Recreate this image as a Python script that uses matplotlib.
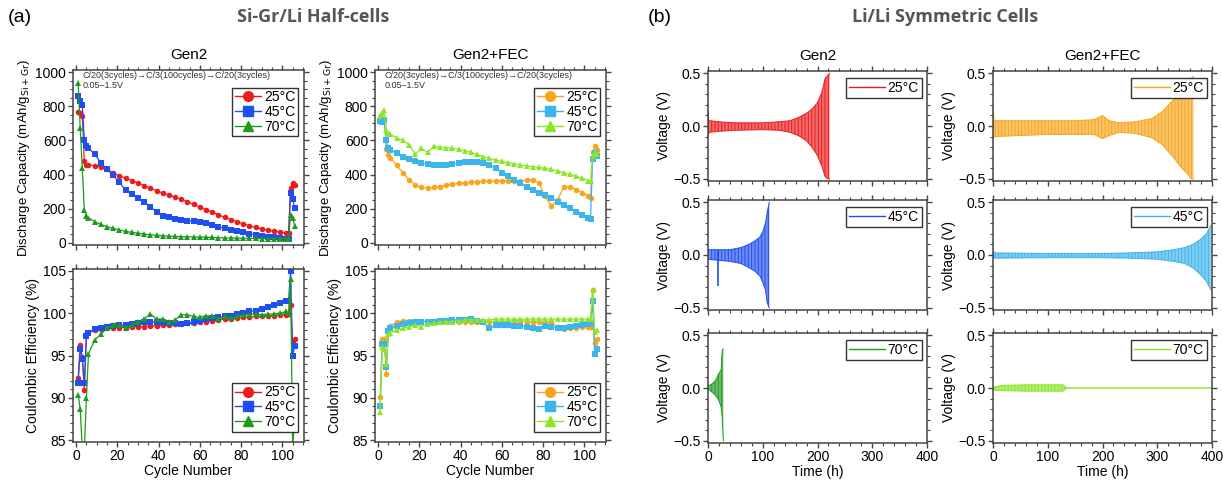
#!/usr/bin/env python3

import matplotlib
matplotlib.use('Agg')
import matplotlib.pyplot as plt
from matplotlib.ticker import MultipleLocator
from matplotlib.lines import Line2D

plt.rcParams['font.family'] = ['Liberation Sans', 'DejaVu Sans']
plt.rcParams['hatch.linewidth'] = 0.7

# ---- half-cell data (cycle number grid shared by all series) ----
CYCLES = [1, 2, 3, 4, 5, 6, 9, 12, 15, 18, 21, 24, 27, 30, 33, 36, 39, 42, 45, 48,
          51, 54, 57, 60, 63, 66, 69, 72, 75, 78, 81, 84, 87, 90, 93, 96, 99, 102,
          103, 104, 105, 106]

TEMPS = ['25°C', '45°C', '70°C']

cap_gen2_25 = [765, 760, 745, 478, 458, 457, 452, 444, 430, 410, 392, 378, 365, 350,
               335, 320, 305, 292, 280, 267, 255, 240, 225, 210, 195, 180, 165, 150,
               137, 124, 112, 101, 91, 83, 75, 69, 64, 60, 58, 322, 352, 340]
cap_gen2_45 = [860, 830, 810, 605, 565, 555, 520, 470, 430, 395, 355, 310, 285, 265,
               240, 212, 180, 160, 150, 143, 136, 130, 127, 122, 115, 105, 95, 86,
               78, 70, 62, 55, 48, 42, 36, 32, 28, 25, 25, 290, 255, 205]
cap_gen2_70 = [935, 670, 440, 190, 160, 148, 125, 108, 95, 85, 76, 68, 62, 57, 52,
               48, 45, 42, 40, 38, 37, 36, 35, 34, 33, 32, 31, 30, 29, 28, 28, 27,
               27, 26, 26, 25, 25, 25, 25, 165, 145, 100]

cap_fec_25 = [735, 720, 725, 550, 515, 500, 455, 410, 370, 340, 325, 320, 325, 330,
              337, 343, 348, 352, 355, 358, 360, 362, 363, 364, 364, 365, 365, 366,
              370, 350, 272, 218, 250, 330, 328, 312, 295, 272, 265, 530, 565, 545]
cap_fec_45 = [715, 705, 720, 600, 555, 545, 525, 505, 490, 478, 468, 460, 456, 455,
              458, 463, 467, 472, 475, 474, 468, 455, 437, 412, 390, 370, 350, 330,
              312, 295, 280, 262, 242, 222, 202, 183, 163, 145, 138, 490, 525, 510]
cap_fec_70 = [740, 760, 780, 660, 645, 635, 615, 600, 575, 520, 553, 530, 565, 560,
              557, 553, 548, 540, 530, 518, 505, 495, 485, 478, 470, 462, 456, 450,
              446, 442, 436, 430, 422, 412, 402, 390, 378, 365, 360, 510, 530, 520]

ce_gen2_25 = [92.3, 96.2, 94.8, 90.9, 97.5, 97.8, 98.0, 98.1, 98.2, 98.3, 98.3, 98.3,
              98.4, 98.4, 98.4, 98.5, 98.5, 98.6, 98.6, 98.7, 98.7, 98.8, 98.8, 98.9,
              99.0, 99.1, 99.2, 99.3, 99.3, 99.4, 99.5, 99.5, 99.6, 99.6, 99.7, 99.7,
              99.8, 99.8, 99.9, 101.0, 96.5, 96.9]
ce_gen2_45 = [91.8, 95.8, 94.6, 91.8, 97.3, 97.7, 98.1, 98.2, 98.4, 98.5, 98.6, 98.6,
              98.7, 98.8, 98.9, 99.0, 98.9, 98.9, 98.8, 98.8, 98.7, 98.8, 98.9, 99.1,
              99.3, 99.4, 99.5, 99.6, 99.7, 99.9, 100.0, 100.2, 100.3, 100.5, 100.7,
              100.9, 101.2, 101.4, 101.4, 105.0, 95.0, 96.1]
ce_gen2_70 = [90.4, 88.7, 84.0, 84.0, 90.0, 95.2, 96.8, 97.5, 98.2, 98.6, 98.6, 98.3,
              98.6, 99.0, 99.3, 99.9, 99.3, 99.3, 99.0, 99.2, 99.8, 99.8, 99.6, 99.5,
              99.7, 99.6, 99.3, 99.6, 99.4, 99.6, 99.8, 99.8, 99.9, 99.8, 99.9, 99.9,
              100.0, 100.2, 100.0, 104.0, 84.0, 88.0]

ce_fec_25 = [90.1, 97.0, 97.0, 92.8, 98.0, 98.5, 98.9, 99.1, 99.1, 99.1, 99.1, 99.0,
             99.0, 98.9, 99.0, 99.0, 99.0, 99.0, 99.0, 99.0, 99.0, 99.0, 99.0, 99.0,
             99.0, 99.1, 99.1, 99.0, 99.0, 98.9, 99.0, 98.9, 98.4, 98.1, 98.2, 98.3,
             98.4, 98.4, 98.4, 102.7, 96.5, 97.0]
ce_fec_45 = [89.1, 96.4, 96.4, 93.7, 97.9, 98.2, 98.5, 98.7, 98.8, 98.9, 99.0, 99.0,
             99.0, 99.1, 99.1, 99.2, 99.2, 99.2, 99.3, 99.1, 98.9, 98.2, 98.6, 98.6,
             98.6, 98.5, 98.5, 98.4, 98.3, 98.1, 98.5, 98.4, 98.3, 98.3, 98.4, 98.5,
             98.6, 98.7, 98.8, 101.4, 95.2, 95.8]
ce_fec_70 = [88.3, 96.0, 95.8, 94.0, 97.5, 97.7, 98.0, 98.2, 98.4, 98.6, 98.4, 98.7,
             98.8, 98.9, 99.0, 99.0, 99.1, 99.2, 99.2, 99.2, 99.2, 99.2, 99.3, 99.3,
             99.3, 99.3, 99.3, 99.3, 99.3, 99.3, 99.3, 99.3, 99.3, 99.3, 99.3, 99.3,
             99.3, 99.3, 99.3, 102.7, 97.8, 98.0]

# ---- symmetric cell voltage envelopes (time in h, upper / lower voltage) ----
v_gen2_25_t = [0, 1, 3, 20, 50, 100, 130, 150, 165, 180, 190, 200, 208, 214, 219, 222]
v_gen2_25_hi = [0.16, 0.06, 0.05, 0.04, 0.03, 0.03, 0.04, 0.05, 0.08, 0.12, 0.16, 0.22,
                0.32, 0.45, 0.48, 0.5]
v_gen2_25_lo = [-0.11, -0.07, -0.06, -0.05, -0.04, -0.035, -0.04, -0.06, -0.09, -0.14,
                -0.2, -0.28, -0.38, -0.48, -0.5, -0.5]

v_gen2_45_t = [0, 18, 19, 40, 60, 75, 85, 95, 100, 105, 108, 112]
v_gen2_45_hi = [0.05, 0.05, 0.05, 0.05, 0.07, 0.1, 0.13, 0.17, 0.22, 0.3, 0.4, 0.5]
v_gen2_45_lo = [-0.04, -0.05, -0.05, -0.06, -0.08, -0.12, -0.15, -0.2, -0.26, -0.33,
                -0.45, -0.5]
spike_45_t = 18.5
spike_45_v = -0.29

v_gen2_70_t = [0, 5, 10, 15, 20, 24, 26, 28]
v_gen2_70_hi = [0.02, 0.03, 0.05, 0.08, 0.14, 0.17, 0.36, 0.37]
v_gen2_70_lo = [-0.01, -0.03, -0.05, -0.08, -0.12, -0.18, -0.28, -0.5]

v_fec_25_t = [0, 2, 50, 100, 150, 185, 200, 212, 230, 260, 290, 310, 330, 345, 355,
              362, 366]
v_fec_25_hi = [0.2, 0.05, 0.05, 0.05, 0.05, 0.06, 0.1, 0.05, 0.03, 0.04, 0.07, 0.14,
               0.25, 0.35, 0.42, 0.45, 0.47]
v_fec_25_lo = [-0.15, -0.1, -0.09, -0.08, -0.08, -0.08, -0.12, -0.09, -0.06, -0.07,
               -0.11, -0.18, -0.3, -0.4, -0.45, -0.5, -0.5]

v_fec_45_t = [0, 2, 100, 200, 250, 300, 330, 350, 365, 380, 390, 398]
v_fec_45_hi = [0.06, 0.02, 0.015, 0.015, 0.02, 0.03, 0.05, 0.07, 0.1, 0.15, 0.2, 0.28]
v_fec_45_lo = [-0.02, -0.03, -0.025, -0.025, -0.03, -0.04, -0.06, -0.08, -0.12, -0.19,
               -0.25, -0.33]

v_fec_70_t = [0, 20, 60, 100, 128, 132, 135, 400]
v_fec_70_hi = [0.01, 0.025, 0.03, 0.03, 0.03, 0.01, 0.0, 0.0]
v_fec_70_lo = [-0.02, -0.025, -0.03, -0.03, -0.03, -0.01, 0.0, 0.0]

GEN2_COLORS = ['#ec1c1c', '#1f4ff0', '#1e9a1e']
FEC_COLORS = ['#f8a51c', '#3cb4ec', '#8ce628']
MARKERS = ['o', 's', '^']
SPINE = '#444444'
FS = 10

W, H = 1223, 483


def px_axes(fig, x0, y0, x1, y1):
    # axes box given in pixel coordinates of the reference picture
    return fig.add_axes([x0 / W, 1 - y1 / H, (x1 - x0) / W, (y1 - y0) / H])


def style_axes(ax, labelsize=FS):
    for s in ax.spines.values():
        s.set_color(SPINE)
        s.set_linewidth(1.1)
    ax.tick_params(which='both', direction='out', top=True, right=True,
                   color=SPINE, labelsize=labelsize, pad=1.5)
    ax.tick_params(which='major', length=3.5, width=1)
    ax.tick_params(which='minor', length=2, width=0.8)


def legend_box(ax, handles, loc, anchor, handlelength=1.9):
    leg = ax.legend(handles=handles, loc=loc, bbox_to_anchor=anchor, fontsize=FS,
                    frameon=True, fancybox=False, edgecolor='#333333', framealpha=1,
                    borderpad=0.2, labelspacing=0.05, handlelength=handlelength,
                    handletextpad=0.2, borderaxespad=0)
    leg.get_frame().set_linewidth(1.0)
    return leg


def half_cell_column(fig, x0, x1, caps, ces, colors, title):
    ax_cap = px_axes(fig, x0, 70, x1, 245)
    ax_ce = px_axes(fig, x0, 269, x1, 442)

    handles = []
    for vals, c, m, lab in zip(caps, colors, MARKERS, TEMPS):
        ax_cap.plot(CYCLES, vals, color=c, marker=m, ms=4, lw=0.9, mew=0)
        handles.append(Line2D([], [], color=c, marker=m, ms=7, lw=1, label=lab))
    for vals, c, m in zip(ces, colors, MARKERS):
        ax_ce.plot(CYCLES, vals, color=c, marker=m, ms=4, lw=0.9, mew=0)

    ax_cap.set_xlim(-1.5, 110.5)
    ax_cap.set_ylim(-12, 1012)
    ax_cap.yaxis.set_major_locator(MultipleLocator(200))
    ax_cap.yaxis.set_minor_locator(MultipleLocator(50))
    ax_cap.xaxis.set_major_locator(MultipleLocator(20))
    ax_cap.xaxis.set_minor_locator(MultipleLocator(5))
    ax_cap.tick_params(labelbottom=False)
    ax_cap.set_ylabel('Discharge Capacity (mAh/g$_{\\mathrm{Si+Gr}}$)', fontsize=9.5,
                      labelpad=2)
    ax_cap.set_title(title, fontsize=11, pad=8)
    ax_cap.text(0.04, 0.995, 'C/20(3cycles)→C/3(100cycles)→C/20(3cycles)\n0.05–1.5V',
                transform=ax_cap.transAxes, fontsize=6.5, va='top', ha='left',
                color='#333333', linespacing=1.15)
    legend_box(ax_cap, handles, 'upper right', (0.975, 0.9))

    ax_ce.set_xlim(-1.5, 110.5)
    ax_ce.set_ylim(84.8, 105.2)
    ax_ce.yaxis.set_major_locator(MultipleLocator(5))
    ax_ce.yaxis.set_minor_locator(MultipleLocator(1))
    ax_ce.xaxis.set_major_locator(MultipleLocator(20))
    ax_ce.xaxis.set_minor_locator(MultipleLocator(5))
    ax_ce.set_ylabel('Coulombic Efficiency (%)', fontsize=FS, labelpad=2)
    ax_ce.set_xlabel('Cycle Number', fontsize=FS, labelpad=1)
    legend_box(ax_ce, handles, 'lower right', (0.975, 0.06))

    for ax in (ax_cap, ax_ce):
        style_axes(ax)


def voltage_panel(fig, x0, y0, x1, y1, t, hi, lo, color, label, bottom):
    ax = px_axes(fig, x0, y0, x1, y1)
    ax.fill_between(t, lo, hi, facecolor=color, alpha=0.65, lw=0)
    ax.fill_between(t, lo, hi, facecolor='none', edgecolor=color, hatch='|||||', lw=0)
    ax.plot(t, hi, color=color, lw=0.7)
    ax.plot(t, lo, color=color, lw=0.7)
    ax.set_xlim(0, 400)
    ax.set_ylim(-0.52, 0.52)
    ax.yaxis.set_major_locator(MultipleLocator(0.5))
    ax.yaxis.set_minor_locator(MultipleLocator(0.1))
    ax.xaxis.set_major_locator(MultipleLocator(100))
    ax.xaxis.set_minor_locator(MultipleLocator(20))
    ax.set_ylabel('Voltage (V)', fontsize=FS, labelpad=2)
    if bottom:
        ax.set_xlabel('Time (h)', fontsize=FS, labelpad=1)
    else:
        ax.tick_params(labelbottom=False)
    h = Line2D([], [], color=color, lw=1, label=label)
    leg = legend_box(ax, [h], 'upper right', (0.975, 0.935), handlelength=2.6)
    leg.set_zorder(5)
    style_axes(ax)
    return ax


def main():
    fig = plt.figure(figsize=(W / 100, H / 100), dpi=100)

    fig.text(8 / W, 1 - 18 / H, '(a)', fontsize=14, va='center', ha='left')
    fig.text(648 / W, 1 - 18 / H, '(b)', fontsize=14, va='center', ha='left')
    fig.text(313 / W, 1 - 17 / H, 'Si-Gr/Li Half-cells', fontsize=13, fontweight='bold',
             family=['Open Sans', 'DejaVu Sans'], color='#555555', ha='center',
             va='center')
    fig.text(945 / W, 1 - 17 / H, 'Li/Li Symmetric Cells', fontsize=13,
             fontweight='bold', family=['Open Sans', 'DejaVu Sans'], color='#555555',
             ha='center', va='center')

    half_cell_column(fig, 73, 304, [cap_gen2_25, cap_gen2_45, cap_gen2_70],
                     [ce_gen2_25, ce_gen2_45, ce_gen2_70], GEN2_COLORS, 'Gen2')
    half_cell_column(fig, 375, 606, [cap_fec_25, cap_fec_45, cap_fec_70],
                     [ce_fec_25, ce_fec_45, ce_fec_70], FEC_COLORS, 'Gen2+FEC')

    rows = [(71, 181), (200, 310), (333, 443)]
    gen2 = [(v_gen2_25_t, v_gen2_25_hi, v_gen2_25_lo),
            (v_gen2_45_t, v_gen2_45_hi, v_gen2_45_lo),
            (v_gen2_70_t, v_gen2_70_hi, v_gen2_70_lo)]
    fec = [(v_fec_25_t, v_fec_25_hi, v_fec_25_lo),
           (v_fec_45_t, v_fec_45_hi, v_fec_45_lo),
           (v_fec_70_t, v_fec_70_hi, v_fec_70_lo)]

    for i, (y0, y1) in enumerate(rows):
        ax = voltage_panel(fig, 708, y0, 927, y1, *gen2[i], GEN2_COLORS[i], TEMPS[i],
                           i == 2)
        if i == 0:
            ax.set_title('Gen2', fontsize=11, pad=8)
        if i == 1:
            ax.vlines(spike_45_t, spike_45_v, 0.05, color=GEN2_COLORS[1], lw=1.2)
        ax = voltage_panel(fig, 993, y0, 1212, y1, *fec[i], FEC_COLORS[i], TEMPS[i],
                           i == 2)
        if i == 0:
            ax.set_title('Gen2+FEC', fontsize=11, pad=8)

    fig.savefig('out.png', dpi=100, facecolor='white')


if __name__ == '__main__':
    main()
